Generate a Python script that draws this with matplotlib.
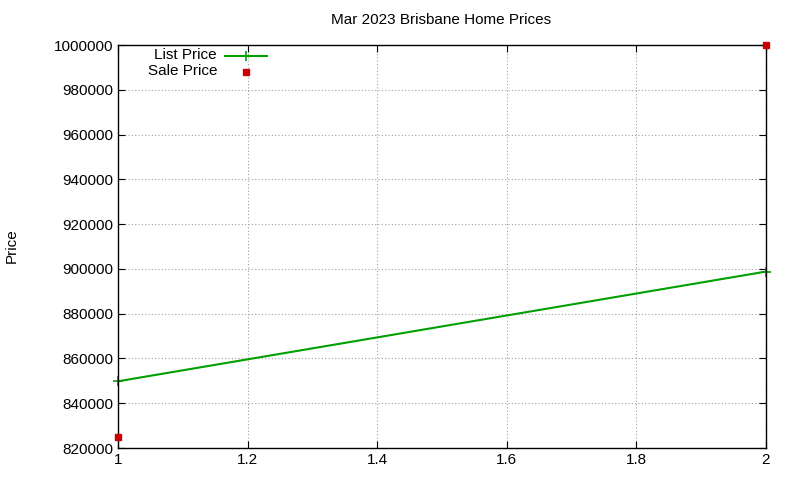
import matplotlib
matplotlib.use("Agg")
import matplotlib.pyplot as plt
from matplotlib.lines import Line2D

plt.rcParams['font.family'] = ['Liberation Sans', 'DejaVu Sans']

x = [1, 2]
list_price = [849800, 898800]
sale_price = [825000, 1000000]

fig = plt.figure(figsize=(8, 4.8), dpi=100)
ax = fig.add_axes([118/800, 1-448/480, (766-118)/800, (448-45)/480])
ax.plot(x, list_price, color="#00a000", lw=1.5, marker="+", ms=7, mew=1.2, clip_on=False)
ax.plot(x, sale_price, ls="none", marker="s", color="#cc0000", ms=5, clip_on=False, zorder=5)
ax.set_xlim(1, 2)
ax.set_ylim(820000, 1000000)
ax.set_xticks([1, 1.2, 1.4, 1.6, 1.8, 2])
ax.set_xticklabels(["1", "1.2", "1.4", "1.6", "1.8", "2"])
ax.set_yticks(range(820000, 1000001, 20000))
ax.set_yticklabels([str(v) for v in range(820000, 1000001, 20000)])
ax.grid(True, color="#a0a0a0", ls=(0, (1, 2)), lw=0.8)
ax.tick_params(direction="in", top=True, right=True, labelsize=11, length=5)
for s in ax.spines.values():
    s.set_linewidth(1)
fig.text(12/800, 1-246/480, "Price", rotation=90, ha="center", va="center", fontsize=11)
fig.text(441/800, 1-20/480, "Mar 2023 Brisbane Home Prices", ha="center", va="center", fontsize=11)

# legend like gnuplot (text left of sample)
fig.text(217/800, 1-55/480, "List Price", ha="right", va="center", fontsize=11)
fig.text(217/800, 1-71/480, "Sale Price", ha="right", va="center", fontsize=11)
fig.add_artist(Line2D([225/800, 267/800], [1-56/480]*2, color="#00a000", lw=1.5))
fig.add_artist(Line2D([246/800], [1-56/480], color="#00a000", marker="+", ms=7, mew=1.2))
fig.add_artist(Line2D([246/800], [1-72/480], color="#cc0000", marker="s", ms=5, ls="none"))
fig.savefig("out.png", dpi=100)
